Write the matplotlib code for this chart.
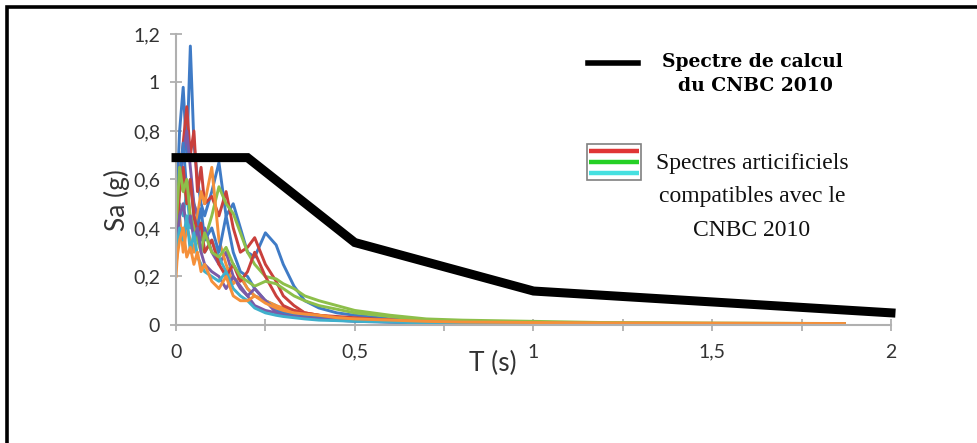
import matplotlib

matplotlib.use("Agg")
import matplotlib.pyplot as plt
from matplotlib.patches import Rectangle
from matplotlib.ticker import FixedLocator, FuncFormatter

plt.rcParams["font.family"] = ["Lato", "DejaVu Sans"]

# design spectrum (CNBC 2010)
T_DESIGN = [0.0, 0.2, 0.5, 1.0, 2.0]
SA_DESIGN = [0.69, 0.69, 0.34, 0.14, 0.05]

# periods shared by the artificial spectra
T_ART = [0.0, 0.01, 0.02, 0.03, 0.04, 0.05, 0.06, 0.07, 0.08, 0.10, 0.12, 0.14,
         0.16, 0.18, 0.20, 0.22, 0.25, 0.28, 0.30, 0.33, 0.36, 0.40, 0.45, 0.50,
         0.60, 0.70, 0.80, 1.00, 1.20, 1.50, 1.87]

SA_BLUE_1 = [0.45, 0.80, 0.98, 0.70, 1.15, 0.75, 0.60, 0.50, 0.45, 0.55, 0.67, 0.45,
             0.50, 0.40, 0.30, 0.28, 0.38, 0.33, 0.25, 0.16, 0.10, 0.07, 0.05, 0.04,
             0.025, 0.015, 0.010, 0.008, 0.006, 0.005, 0.004]
SA_RED_1 = [0.40, 0.60, 0.75, 0.90, 0.70, 0.80, 0.55, 0.65, 0.50, 0.53, 0.45, 0.55,
            0.40, 0.30, 0.32, 0.36, 0.25, 0.18, 0.12, 0.08, 0.05, 0.04, 0.035, 0.03,
            0.02, 0.012, 0.010, 0.008, 0.006, 0.005, 0.004]
SA_GREEN_1 = [0.45, 0.55, 0.60, 0.50, 0.57, 0.50, 0.45, 0.40, 0.35, 0.45, 0.57, 0.50,
              0.46, 0.38, 0.30, 0.25, 0.20, 0.19, 0.17, 0.15, 0.12, 0.10, 0.08, 0.06,
              0.04, 0.025, 0.020, 0.015, 0.010, 0.008, 0.006]
SA_PURPLE_1 = [0.35, 0.60, 0.70, 0.80, 0.65, 0.50, 0.45, 0.35, 0.40, 0.30, 0.25, 0.30,
               0.20, 0.15, 0.12, 0.08, 0.06, 0.05, 0.04, 0.035, 0.03, 0.025, 0.02, 0.018,
               0.012, 0.008, 0.006, 0.005, 0.004, 0.003, 0.003]
SA_CYAN_1 = [0.35, 0.50, 0.45, 0.55, 0.40, 0.45, 0.35, 0.40, 0.30, 0.35, 0.28, 0.22,
             0.25, 0.20, 0.15, 0.12, 0.10, 0.08, 0.05, 0.04, 0.035, 0.03, 0.025, 0.02,
             0.015, 0.010, 0.008, 0.006, 0.005, 0.004, 0.003]
SA_ORANGE_1 = [0.20, 0.45, 0.30, 0.40, 0.35, 0.30, 0.45, 0.55, 0.50, 0.65, 0.35, 0.25,
               0.17, 0.20, 0.15, 0.12, 0.10, 0.08, 0.07, 0.06, 0.05, 0.04, 0.03, 0.025,
               0.02, 0.015, 0.012, 0.010, 0.008, 0.007, 0.006]
SA_BLUE_2 = [0.35, 0.60, 0.75, 0.55, 0.60, 0.45, 0.40, 0.48, 0.35, 0.40, 0.30, 0.45,
             0.30, 0.22, 0.20, 0.15, 0.10, 0.06, 0.05, 0.04, 0.035, 0.03, 0.025, 0.02,
             0.015, 0.010, 0.008, 0.006, 0.005, 0.004, 0.003]
SA_RED_2 = [0.30, 0.55, 0.65, 0.50, 0.60, 0.45, 0.38, 0.42, 0.30, 0.35, 0.25, 0.20,
            0.25, 0.18, 0.22, 0.30, 0.20, 0.12, 0.08, 0.06, 0.05, 0.04, 0.03, 0.025,
            0.02, 0.015, 0.010, 0.008, 0.006, 0.005, 0.004]
SA_GREEN_2 = [0.40, 0.65, 0.55, 0.60, 0.45, 0.40, 0.35, 0.30, 0.38, 0.30, 0.28, 0.32,
              0.25, 0.20, 0.18, 0.16, 0.18, 0.17, 0.15, 0.12, 0.10, 0.08, 0.065, 0.05,
              0.035, 0.02, 0.015, 0.010, 0.008, 0.006, 0.005]
SA_PURPLE_2 = [0.30, 0.45, 0.50, 0.40, 0.45, 0.35, 0.40, 0.30, 0.25, 0.22, 0.20, 0.15,
               0.20, 0.16, 0.12, 0.15, 0.10, 0.05, 0.04, 0.035, 0.03, 0.025, 0.02, 0.015,
               0.012, 0.008, 0.006, 0.005, 0.004, 0.003, 0.003]
SA_CYAN_2 = [0.30, 0.40, 0.35, 0.45, 0.30, 0.38, 0.28, 0.25, 0.22, 0.20, 0.18, 0.22,
             0.15, 0.12, 0.10, 0.07, 0.05, 0.04, 0.035, 0.03, 0.025, 0.02, 0.018, 0.015,
             0.012, 0.008, 0.006, 0.005, 0.004, 0.003, 0.003]
SA_ORANGE_2 = [0.25, 0.35, 0.40, 0.28, 0.32, 0.25, 0.30, 0.22, 0.25, 0.18, 0.15, 0.20,
               0.12, 0.10, 0.10, 0.12, 0.09, 0.07, 0.06, 0.05, 0.045, 0.04, 0.03, 0.025,
               0.02, 0.015, 0.012, 0.010, 0.008, 0.007, 0.006]

ART_SERIES = [SA_BLUE_1, SA_RED_1, SA_GREEN_1, SA_PURPLE_1, SA_CYAN_1, SA_ORANGE_1,
              SA_BLUE_2, SA_RED_2, SA_GREEN_2, SA_PURPLE_2, SA_CYAN_2, SA_ORANGE_2]
ART_COLORS = ["#3F7BC6", "#C9403C", "#8DBF4A", "#7A5BA8", "#3FB0CC", "#F5903A"] * 2

X_TICKS = [0, 0.5, 1, 1.5, 2]
Y_TICKS = [0, 0.2, 0.4, 0.6, 0.8, 1.0, 1.2]

AXIS_GREY = "#B0B0B0"
TEXT_GREY = "#333333"


def comma(v, _pos):
    return f"{v:g}".replace(".", ",")


def main():
    fig = plt.figure(figsize=(9.78, 4.43), dpi=100)
    ax = fig.add_axes([0.18, 0.2664, 0.731, 0.657])

    for sa, color in zip(ART_SERIES, ART_COLORS):
        ax.plot(T_ART, sa, color=color, linewidth=2.1, zorder=2)
    ax.plot(T_DESIGN, SA_DESIGN, color="black", linewidth=6.5, zorder=3,
            solid_joinstyle="miter", clip_on=False)

    ax.set_xlim(0, 2)
    ax.set_ylim(0, 1.2)
    ax.xaxis.set_major_locator(FixedLocator(X_TICKS))
    ax.xaxis.set_minor_locator(FixedLocator([0.25, 0.75, 1.25, 1.75]))
    ax.yaxis.set_major_locator(FixedLocator(Y_TICKS))
    ax.xaxis.set_major_formatter(FuncFormatter(comma))
    ax.yaxis.set_major_formatter(FuncFormatter(comma))

    for side in ("top", "right"):
        ax.spines[side].set_visible(False)
    for side in ("left", "bottom"):
        ax.spines[side].set_color(AXIS_GREY)
        ax.spines[side].set_linewidth(1.5)

    ax.tick_params(axis="both", which="both", direction="inout", length=9,
                   width=1.3, color=AXIS_GREY, labelsize=14, labelcolor=TEXT_GREY)
    ax.tick_params(axis="x", pad=9)
    ax.tick_params(axis="y", pad=7)

    ax.set_xlabel("T (s)", fontsize=19, color=TEXT_GREY)
    ax.set_ylabel("Sa (g)", fontsize=19, color=TEXT_GREY)
    ax.xaxis.set_label_coords(0.443, -0.09)
    ax.yaxis.set_label_coords(-0.064, 0.43)

    # legend and frame drawn in pixel space
    ov = fig.add_axes([0, 0, 1, 1])
    ov.set_xlim(0, 978)
    ov.set_ylim(443, 0)
    ov.axis("off")
    ov.patch.set_visible(False)

    ov.plot([7, 7, 978], [443, 7, 7], color="black", linewidth=2.6,
            solid_joinstyle="miter")

    ov.plot([588, 638], [63, 63], color="black", linewidth=4)
    ov.text(752, 62, "Spectre de calcul", family="DejaVu Serif", weight="bold",
            fontsize=13.5, ha="center", va="center")
    ov.text(755, 86, "du CNBC 2010", family="DejaVu Serif", weight="bold",
            fontsize=13.5, ha="center", va="center")

    ov.add_patch(Rectangle((587, 144), 54, 36, facecolor="white",
                           edgecolor="#808080", linewidth=1.2))
    for y, color in [(151, "#E03535"), (162, "#25D025"), (173, "#45E0E0")]:
        ov.plot([589, 639], [y, y], color=color, linewidth=3.2,
                solid_capstyle="butt")

    for y, line in [(163, "Spectres articificiels"),
                    (196, "compatibles avec le"),
                    (230, "CNBC 2010")]:
        ov.text(752, y, line, family=["Liberation Serif", "DejaVu Serif"],
                fontsize=17, ha="center", va="center", color="#111111")

    fig.savefig("out.png", dpi=100)


if __name__ == "__main__":
    main()
